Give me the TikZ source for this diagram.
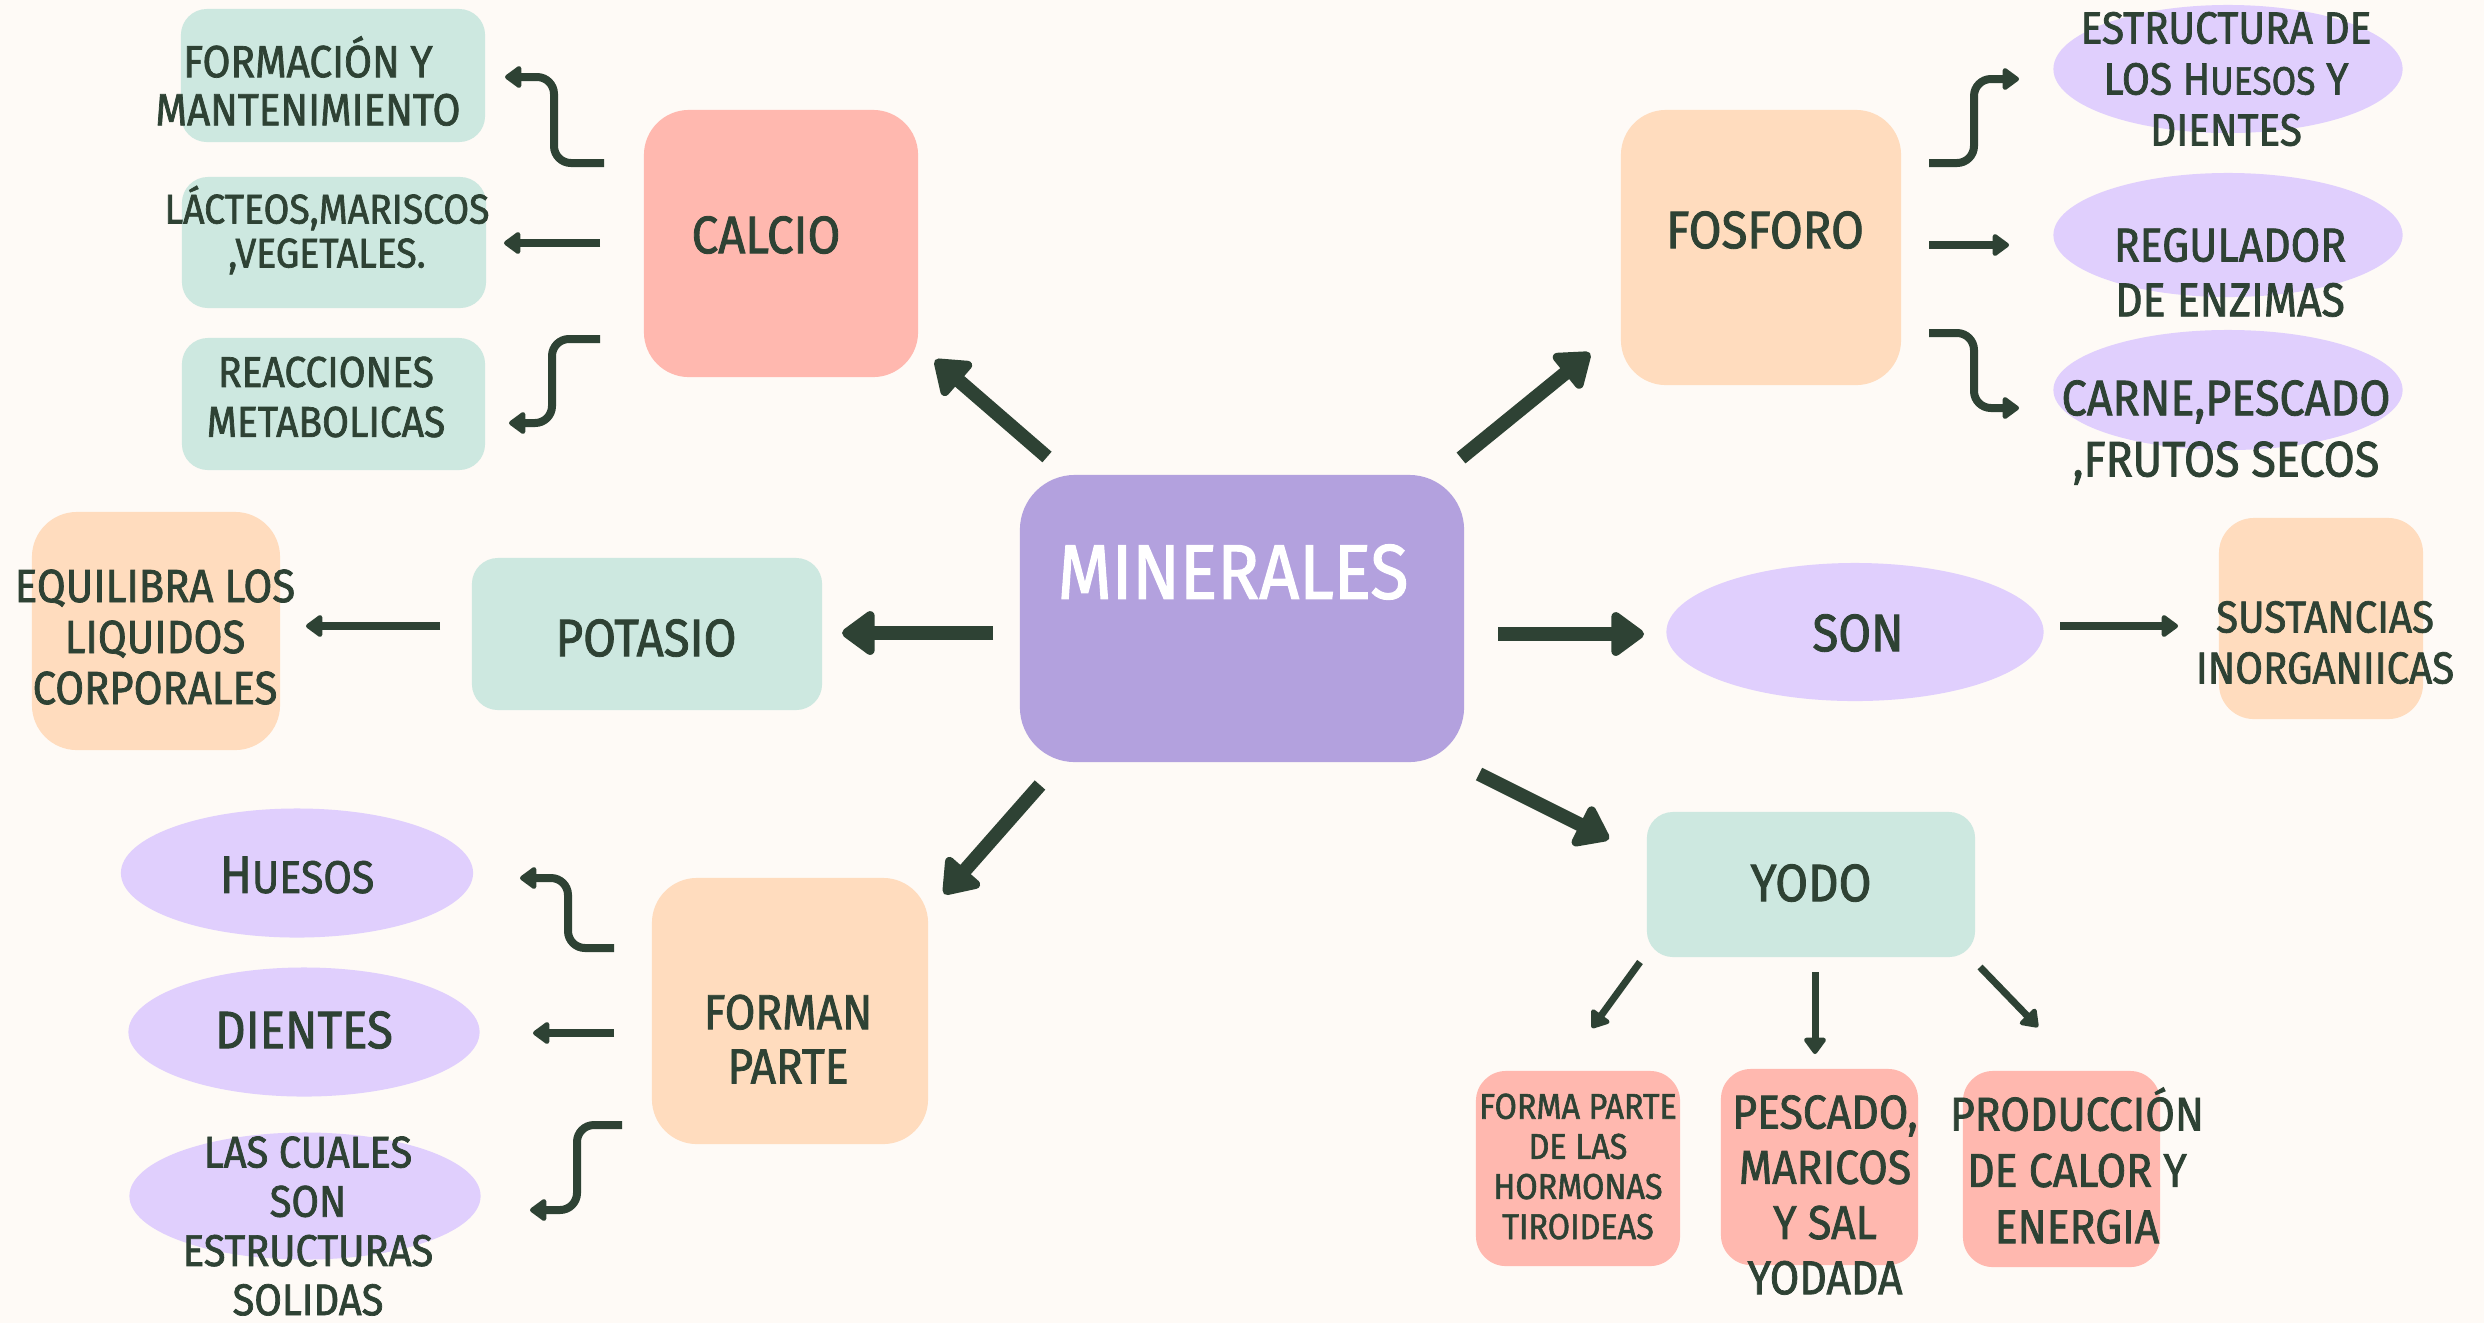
\documentclass[tikz,border=0pt]{standalone}
\usepackage{fontspec}
\setmainfont{Fira Sans}[FakeStretch=0.9,FakeBold=1.6]
\usetikzlibrary{arrows.meta,shapes.geometric}
\definecolor{bg}{HTML}{FEFAF6}
\definecolor{ink}{HTML}{2E4234}
\definecolor{purp}{HTML}{B3A1DE}
\definecolor{lav}{HTML}{E0CFFD}
\definecolor{mint}{HTML}{CDE8E0}
\definecolor{salmon}{HTML}{FFB8AF}
\definecolor{peach}{HTML}{FFDCBE}
\begin{document}
\begin{tikzpicture}[x=0.01cm,y=-0.01cm,
  blob/.style={rectangle, rounded corners=0.26cm, draw=none, inner sep=0pt},
  bigblob/.style={rectangle, rounded corners=0.45cm, draw=none, inner sep=0pt},
  egg/.style={ellipse, fill=lav, draw=none, inner sep=0pt},
  lbl/.style={text=ink, align=center, inner sep=0pt},
  fs/.style 2 args={font=\fontsize{#1}{#2}\selectfont},
  bigarr/.style={draw=ink, line width=0.14cm, line cap=butt,
     -{Triangle[width=0.5cm,length=0.36cm,round]}},
  medarr/.style={draw=ink, line width=0.08cm, rounded corners=0.17cm,
     -{Triangle[width=0.25cm,length=0.18cm,round]}},
  thinarr/.style={draw=ink, line width=0.07cm,
     -{Triangle[width=0.25cm,length=0.18cm,round]}}
]
\path[use as bounding box, fill=bg] (0,0) rectangle (2484,1323);

% ---------- shapes ----------
\node[bigblob, fill=purp, minimum width=4.44cm, minimum height=2.87cm, rounded corners=0.55cm] (min) at (1242,618.5) {};
\node[bigblob, fill=salmon, minimum width=2.74cm, minimum height=2.67cm] (calcio) at (781,243.5) {};
\node[bigblob, fill=peach, minimum width=2.80cm, minimum height=2.75cm] (fosforo) at (1761,247.5) {};
\node[bigblob, fill=peach, minimum width=2.76cm, minimum height=2.66cm] (forman) at (790,1011) {};
\node[blob, fill=mint, minimum width=3.04cm, minimum height=1.33cm] (formbox) at (333,75.5) {};
\node[blob, fill=mint, minimum width=3.04cm, minimum height=1.31cm] (lactbox) at (334,242.5) {};
\node[blob, fill=mint, minimum width=3.03cm, minimum height=1.32cm] (reacbox) at (333.5,404) {};
\node[blob, fill=mint, minimum width=3.50cm, minimum height=1.52cm] (potasio) at (647,634) {};
\node[bigblob, fill=peach, minimum width=2.48cm, minimum height=2.38cm] (equibox) at (156,631) {};
\node[blob, fill=peach, minimum width=2.04cm, minimum height=2.01cm, rounded corners=0.35cm] (sustbox) at (2321,618.5) {};
\node[blob, fill=mint, minimum width=3.28cm, minimum height=1.45cm] (yodo) at (1811,884.5) {};
\node[blob, fill=salmon, minimum width=2.04cm, minimum height=1.95cm, rounded corners=0.3cm] (hormbox) at (1578,1168.5) {};
\node[blob, fill=salmon, minimum width=1.97cm, minimum height=1.96cm, rounded corners=0.3cm] (pescbox) at (1819.5,1167) {};
\node[blob, fill=salmon, minimum width=1.97cm, minimum height=1.96cm, rounded corners=0.3cm] (prodbox) at (2061.5,1169) {};

\node[egg, minimum width=3.49cm, minimum height=1.28cm] (estrell) at (2228,69) {};
\node[egg, minimum width=3.49cm, minimum height=1.24cm] (regell) at (2228,235) {};
\node[egg, minimum width=3.49cm, minimum height=1.20cm] (carnell) at (2228,390) {};
\node[egg, minimum width=3.77cm, minimum height=1.38cm] (son) at (1855,632) {};
\node[egg, minimum width=3.52cm, minimum height=1.29cm] (huesos) at (297,873) {};
\node[egg, minimum width=3.51cm, minimum height=1.29cm] (dientes) at (304,1032) {};
\node[egg, minimum width=3.51cm, minimum height=1.27cm] (cualell) at (305,1196) {};

% ---------- texts ----------
\node[lbl, text=white, fs={22}{26}] (mintxt) at (1233,572) {MINERALES};
\node[lbl, fs={15}{18}] (calciotxt) at (766,235) {CALCIO};
\node[lbl, fs={15}{18}] (fosforotxt) at (1765,230) {FOSFORO};
\node[lbl, fs={15}{18}] (potasiotxt) at (646,638) {POTASIO};
\node[lbl, fs={15}{18}] (sontxt) at (1858,633) {SON};
\node[lbl, fs={15}{18}] (yodotxt) at (1811,883) {YODO};
\node[lbl, fs={15}{18}] (huesostxt) at (297,875) {H\fontsize{13}{18}\selectfont UESOS};
\node[lbl, fs={15}{18}] (dientestxt) at (304,1030) {DIENTES};
\node[lbl, fs={14}{15.4}] (formantxt) at (788,1039) {FORMAN\\PARTE};
\node[lbl, fs={12.8}{13.7}] (formtxt) at (308,81) {FORMACIÓN Y\\MANTENIMIENTO};
\node[lbl, fs={11.8}{12.5}] (lacttxt) at (327,230) {LÁCTEOS,MARISCOS\\,VEGETALES.};
\node[lbl, fs={12.3}{14.2}] (reactxt) at (326,397) {REACCIONES\\METABOLICAS};
\node[lbl, fs={13.2}{14.5}] (equitxt) at (155,637) {EQUILIBRA LOS\\LIQUIDOS\\CORPORALES};
\node[lbl, fs={12.6}{14}] (cualtxt) at (308,1226) {LAS CUALES\\SON\\ESTRUCTURAS\\SOLIDAS};
\node[lbl, fs={12.8}{14.5}] (estrtxt) at (2226,79) {ESTRUCTURA DE\\LOS H{\fontsize{11.2}{14.5}\selectfont UESOS} Y\\DIENTES};
\node[lbl, fs={13.5}{15.6}] (regtxt) at (2230,272.5) {REGULADOR\\DE ENZIMAS};
\node[lbl, fs={14.2}{17.4}] (carntxt) at (2226,432.5) {CARNE,PESCADO\\,FRUTOS SECOS};
\node[lbl, fs={12.7}{14.5}] (susttxt) at (2325,642.5) {SUSTANCIAS\\INORGANIICAS};
\node[lbl, fs={10.2}{11.4}] (hormtxt) at (1578,1166.5) {FORMA PARTE\\DE LAS\\HORMONAS\\TIROIDEAS};
\node[lbl, fs={13.5}{15.7}] (pesctxt) at (1825,1195) {PESCADO,\\MARICOS\\Y SAL\\YODADA};
\node[lbl, fs={13.5}{16}] (prodtxt) at (2077,1165.5) {PRODUCCIÓN\\DE CALOR Y\\ENERGIA};

% ---------- arrow end points ----------
\coordinate (mCa) at (1047,457);  \coordinate (caIn) at (935,360);
\coordinate (mFo) at (1461,458);  \coordinate (foIn) at (1590,353);
\coordinate (mPo) at (993,633);   \coordinate (poIn) at (842,633);
\coordinate (mSo) at (1498,634);  \coordinate (soIn) at (1644,634);
\coordinate (mYo) at (1479,774);  \coordinate (yoIn) at (1609,839);
\coordinate (mFm) at (1040,785);  \coordinate (fmIn) at (944,894);

\coordinate (ca1) at (604,163); \coordinate (ca1k) at (554,77); \coordinate (ca1e) at (505,77);
\coordinate (ca2) at (600,243); \coordinate (ca2e) at (504,243);
\coordinate (ca3) at (600,339); \coordinate (ca3k) at (552,423); \coordinate (ca3e) at (509,423);

\coordinate (fo1) at (1929,163); \coordinate (fo1k) at (1974,79); \coordinate (fo1e) at (2019,79);
\coordinate (fo2) at (1929,245); \coordinate (fo2e) at (2009,245);
\coordinate (fo3) at (1929,333); \coordinate (fo3k) at (1974,408); \coordinate (fo3e) at (2019,408);

\coordinate (fm1) at (614,948);  \coordinate (fm1k) at (568,878); \coordinate (fm1e) at (520,878);
\coordinate (fm2) at (614,1033); \coordinate (fm2e) at (533,1033);
\coordinate (fm3) at (622,1125); \coordinate (fm3k) at (577,1210); \coordinate (fm3e) at (530,1210);

\coordinate (po1) at (440,626); \coordinate (po1e) at (306,626);
\coordinate (so1) at (2060,626); \coordinate (so1e) at (2178,626);

\coordinate (yo1) at (1640,962); \coordinate (yo1e) at (1592,1028);
\coordinate (yo2) at (1815,972); \coordinate (yo2e) at (1815,1054);
\coordinate (yo3) at (1980,967); \coordinate (yo3e) at (2038,1027);

% ---------- connectors ----------
\draw[bigarr] (mCa) -- (caIn);
\draw[bigarr] (mFo) -- (foIn);
\draw[bigarr] (mPo) -- (poIn);
\draw[bigarr] (mSo) -- (soIn);
\draw[bigarr] (mYo) -- (yoIn);
\draw[bigarr] (mFm) -- (fmIn);

\draw[medarr] (ca1) -| (ca1k) -- (ca1e);
\draw[medarr] (ca2) -- (ca2e);
\draw[medarr] (ca3) -| (ca3k) -- (ca3e);

\draw[medarr] (fo1) -| (fo1k) -- (fo1e);
\draw[medarr] (fo2) -- (fo2e);
\draw[medarr] (fo3) -| (fo3k) -- (fo3e);

\draw[medarr] (fm1) -| (fm1k) -- (fm1e);
\draw[medarr] (fm2) -- (fm2e);
\draw[medarr] (fm3) -| (fm3k) -- (fm3e);

\draw[medarr] (po1) -- (po1e);
\draw[medarr] (so1) -- (so1e);

\draw[thinarr] (yo1) -- (yo1e);
\draw[thinarr] (yo2) -- (yo2e);
\draw[thinarr] (yo3) -- (yo3e);
\end{tikzpicture}
\end{document}
